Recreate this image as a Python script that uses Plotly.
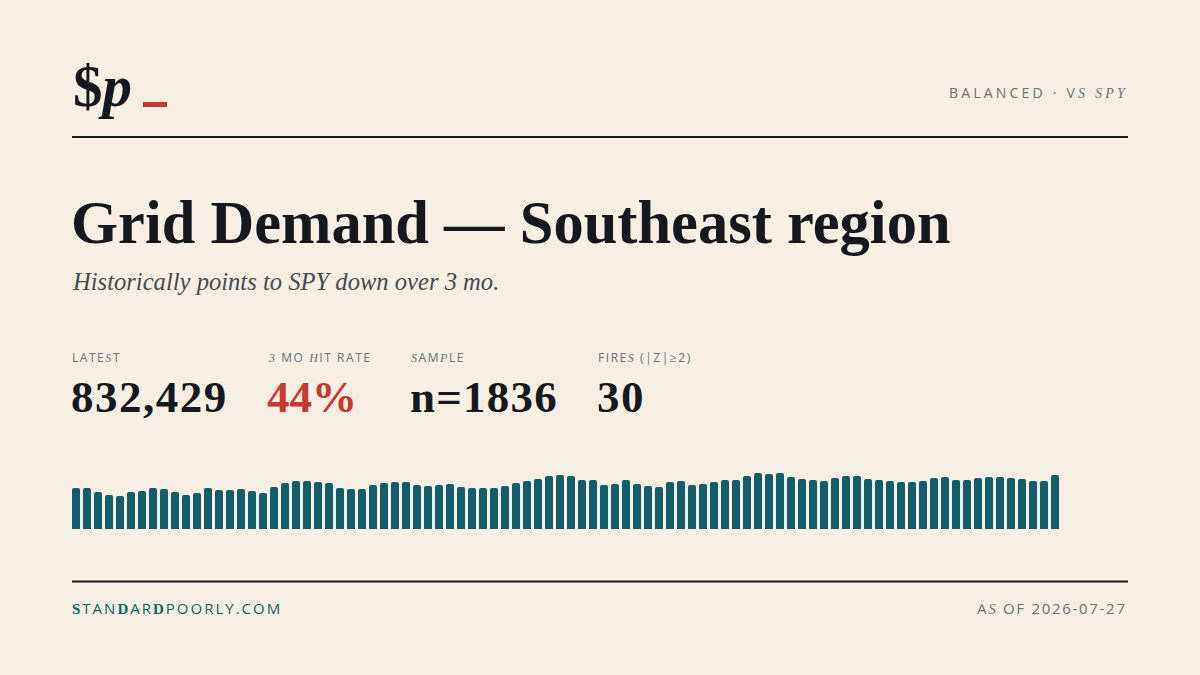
import plotly.graph_objects as go

# ---------------- data ----------------
series_values = [
    632000, 632000, 570400, 524100, 508700, 570400, 585800, 632000, 616600, 570400,
    524100, 554900, 632000, 601200, 601200, 616600, 585800, 554900, 647400, 709100,
    739900, 739900, 724500, 709100, 632000, 616600, 616600, 678300, 709100, 724500,
    724500, 678300, 662900, 678300, 693700, 647400, 632000, 632000, 632000, 662900,
    709100, 739900, 770800, 817000, 832400, 817000, 755300, 755300, 678300, 693700,
    755300, 693700, 662900, 647400, 724500, 739900, 678300, 693700, 724500, 755300,
    755300, 817000, 863300, 847800, 863300, 801600, 770800, 755300, 739900, 786200,
    817000, 817000, 770800, 755300, 739900, 724500, 724500, 739900, 786200, 801600,
    755300, 755300, 786200, 801600, 801600, 786200, 770800, 739900, 739900, 832429,
]
periods = list(range(len(series_values)))

title = "Grid Demand — Southeast region"
subtitle = "Historically points to SPY down over 3 mo."
# text segments: (text, kind) where kind "n" = plain sans, "i" = serif italic, "b" = serif bold
header_tag = [("BALANCED · V", "n"), ("S SPY", "i")]
stat_labels = [
    [("LATE", "n"), ("S", "i"), ("T", "n")],
    [("3", "i"), (" MO ", "n"), ("H", "i"), ("IT RATE", "n")],
    [("S", "i"), ("AM", "n"), ("P", "i"), ("LE", "n")],
    [("FIRE", "n"), ("S", "i"), (" (|Z|≥2)", "n")],
]
stat_values = ["832,429", "44%", "n=1836", "30"]
footer_left = [("S", "b"), ("TAN", "n"), ("D", "b"), ("AR", "n"), ("D", "b"), ("POORLY.COM", "n")]
footer_right = [("A", "n"), ("S", "i"), (" OF 2026-07-27", "n")]

# ---------------- style ----------------
W, H = 1200, 675
BG = "#F7EFE3"
INK = "#15191F"
TEAL = "#115D6A"
RED = "#C7392E"
GRAY = "#6C7079"
SERIF = "Liberation Serif, DejaVu Serif, serif"
SANS = "Open Sans, Noto Sans, sans-serif"


def px(x):
    return x / W


def py(y):
    return 1 - y / H


def tracked(segments, spacing):
    out = []
    for s, kind in segments:
        style = f"letter-spacing:{spacing}px"
        if kind == "i":
            out.append(f'<i><span style="{style};font-family:Liberation Serif">{s}</span></i>')
        elif kind == "b":
            out.append(f'<b><span style="{style};font-family:Liberation Serif">{s}</span></b>')
        else:
            out.append(f'<span style="{style}">{s}</span>')
    return "".join(out)


fig = go.Figure()
fig.add_trace(go.Bar(
    x=periods, y=series_values,
    marker=dict(color=TEAL, line=dict(width=0), cornerradius=2),
    hoverinfo="skip",
))

bar_bottom = 529
bar_px_per_unit = 54 / 832429
y_top_val = 900000
dom_y0 = (H - bar_bottom) / H
dom_y1 = (H - bar_bottom + y_top_val * bar_px_per_unit) / H

fig.update_layout(
    width=W, height=H,
    paper_bgcolor=BG, plot_bgcolor=BG,
    margin=dict(l=0, r=0, t=0, b=0),
    showlegend=False,
    bargap=3 / 11,
    xaxis=dict(domain=[px(70.5), px(1060.5)], range=[-0.5, len(series_values) - 0.5],
               visible=False, fixedrange=True),
    yaxis=dict(domain=[dom_y0, dom_y1], range=[0, y_top_val], visible=False, fixedrange=True),
)

ann = []


def text(x, y, s, size, color, family, xanchor="left", yanchor="middle"):
    ann.append(dict(x=px(x), y=py(y), xref="paper", yref="paper", text=s, showarrow=False,
                    xanchor=xanchor, yanchor=yanchor,
                    font=dict(size=size, color=color, family=family)))


# brand
text(71, 86, "<b>$<i>p</i></b>", 59, INK, SERIF)
text(1130, 92, tracked(header_tag, 3.2), 14, GRAY, SANS, xanchor="right")

# title + subtitle
text(69, 222, "<b>" + title + "</b>", 60.5, INK, SERIF)
text(70, 281, "<i>" + subtitle + "</i>", 24.6, "#464A52", SERIF)

# stats
stat_x = [72, 268, 411, 598]
val_spacing = [1.5, 0, 1.2, 1.5]
for i, (lab, val) in enumerate(zip(stat_labels, stat_values)):
    text(stat_x[i] - 2, 357, tracked(lab, 1.55), 12, GRAY, SANS)
    text(stat_x[i] - 3, 397,
         f'<b><span style="letter-spacing:{val_spacing[i]}px">{val}</span></b>',
         45, RED if i == 1 else INK, SERIF)

# footer
text(70, 608, tracked(footer_left, 2.0), 15, TEAL, SANS)
text(1129, 608, tracked(footer_right, 1.7), 15, GRAY, SANS, xanchor="right")

fig.update_layout(annotations=ann)

# rules + accent
shapes = [
    dict(type="line", xref="paper", yref="paper", x0=px(72), x1=px(1128), y0=py(137), y1=py(137),
         line=dict(color=INK, width=2)),
    dict(type="line", xref="paper", yref="paper", x0=px(72), x1=px(1128), y0=py(581.5), y1=py(581.5),
         line=dict(color=INK, width=2)),
    dict(type="rect", xref="paper", yref="paper", x0=px(143), x1=px(167), y0=py(107), y1=py(102),
         fillcolor=RED, line=dict(width=0)),
]
fig.update_layout(shapes=shapes)

fig.write_html("out.html", config={"displayModeBar": False},
               post_script="document.body.style.margin='0px';")
